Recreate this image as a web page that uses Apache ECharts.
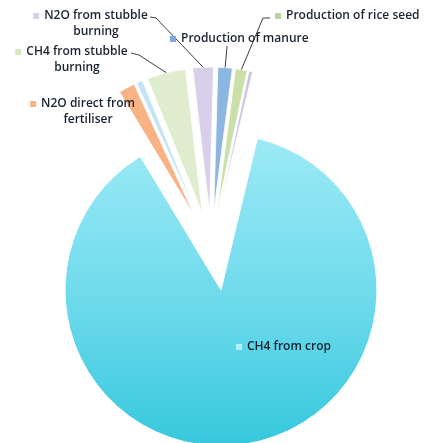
<!DOCTYPE html>
<html>
<head>
<meta charset="utf-8">
<script src="https://cdn.jsdelivr.net/npm/echarts@6/dist/echarts.min.js"></script>
<style>
  html, body { margin: 0; padding: 0; background: #ffffff; }
  #chart { width: 426px; height: 443px; }
</style>
</head>
<body>
<div id="chart"></div>
<script>
// Greenhouse gas sources of a rice crop, clockwise from the large crop slice
const categories = [
  'CH4 from crop',
  'N2O direct from fertiliser',
  'N2O indirect from fertiliser',
  'CH4 from stubble burning',
  'N2O from stubble burning',
  'Production of manure',
  'Production of rice seed',
  'Production of fertiliser'
];
const shares = [87.6, 1.8, 0.7, 4.3, 2.3, 1.6, 1.3, 0.4];
const labelTexts = [
  ['CH4 from crop'],
  ['N2O direct from', 'fertiliser'],
  [],
  ['CH4 from stubble', 'burning'],
  ['N2O from stubble', 'burning'],
  ['Production of manure'],
  ['Production of rice seed'],
  []
];

const sliceColors = ['#6edbeb', '#f8b283', '#c4e4f3', '#dfecce', '#d8d0ea', '#8cb5e1', '#cbe0a9', '#cbc2e4'];
const keyColors   = ['#b6eef7', '#f5b283', '#c4e4f3', '#d6e8c3', '#d2d2ea', '#7ea9da', '#b9d79b', '#cbc2e4'];

// geometry of the two rings (whole pie, and the pulled-out small slices)
const START_ANGLE = 76.5;
const MAIN_CENTER = [221, 290];
const MAIN_RADIUS = 156;
const SMALL_CENTER = [211, 247];
const SMALL_RADIUS = 145;
const SMALL_OFFSET = 35;

// where each label sits and the bends of its leader line
const labelPlace = {
  0: { x: 236, y: 347, align: 'left', verticalAlign: 'middle' },
  1: { x: 88, y: 96, align: 'center', verticalAlign: 'top' },
  3: { x: 77, y: 44, align: 'center', verticalAlign: 'top', bend: [[139, 55], [131, 53]] },
  4: { x: 96, y: 8, align: 'center', verticalAlign: 'top', bend: [[156, 18], [150, 17]] },
  5: { x: 170, y: 39, align: 'left', verticalAlign: 'middle', bend: [[227, 47], [227, 46]] },
  6: { x: 275, y: 16, align: 'left', verticalAlign: 'middle', bend: [[263, 18], [270, 18]] }
};

const total = shares.reduce((a, b) => a + b, 0);

// outer tip of a pulled-out slice, on its middle direction
function sliceTip(i) {
  let before = 0;
  for (let k = 0; k < i; k++) before += shares[k];
  const mid = (START_ANGLE - 360 * (before + shares[i] / 2) / total) * Math.PI / 180;
  const r = SMALL_OFFSET + SMALL_RADIUS;
  return [SMALL_CENTER[0] + r * Math.cos(mid), SMALL_CENTER[1] - r * Math.sin(mid)];
}

const rich = {
  t: { fontFamily: 'Open Sans', fontSize: 12, fontWeight: 600, color: '#1a2431', lineHeight: 16 },
  g: { width: 5 },
  p: { width: 11 }
};
keyColors.forEach((c, i) => { rich['m' + i] = { width: 6, height: 6, backgroundColor: c }; });

function formatLabel(p) {
  const lines = labelTexts[p.dataIndex];
  if (!lines.length) return '';
  const place = labelPlace[p.dataIndex];
  let first = '{m' + p.dataIndex + '|}{g|}{t|' + lines[0] + '}';
  if (place.align === 'center') first += '{p|}';
  return [first].concat(lines.slice(1).map(s => '{t|' + s + '}')).join('\n');
}

const cropGradient = {
  type: 'linear', x: 0, y: 0, x2: 0, y2: 1,
  colorStops: [
    { offset: 0, color: '#9deaf6' },
    { offset: 0.5, color: '#70dbec' },
    { offset: 1, color: '#36c8dd' }
  ]
};

const mainData = categories.map((name, i) => ({
  name: name,
  value: shares[i],
  itemStyle: {
    color: i === 0 ? cropGradient : 'rgba(0,0,0,0)',
    borderColor: i === 0 ? '#ffffff' : 'rgba(0,0,0,0)',
    borderWidth: i === 0 ? 1 : 0
  },
  label: { show: labelTexts[i].length > 0 },
  labelLine: { show: !!(labelPlace[i] && labelPlace[i].bend) }
}));

const smallData = categories.map((name, i) => ({
  name: name,
  value: shares[i],
  selected: i !== 0,
  itemStyle: {
    color: i === 0 ? 'rgba(0,0,0,0)' : sliceColors[i],
    borderColor: i === 0 ? 'rgba(0,0,0,0)' : '#ffffff',
    borderWidth: i === 0 ? 0 : 0.8
  }
}));

const chart = echarts.init(document.getElementById('chart'), null, { renderer: 'canvas' });
chart.setOption({
  animation: false,
  backgroundColor: '#ffffff',
  series: [
    {
      type: 'pie',
      center: SMALL_CENTER,
      radius: SMALL_RADIUS,
      startAngle: START_ANGLE,
      clockwise: true,
      selectedMode: 'multiple',
      selectedOffset: SMALL_OFFSET,
      avoidLabelOverlap: false,
      label: { show: false },
      labelLine: { show: false },
      emphasis: { disabled: true },
      data: smallData,
      z: 2
    },
    {
      type: 'pie',
      center: MAIN_CENTER,
      radius: MAIN_RADIUS,
      startAngle: START_ANGLE,
      clockwise: true,
      silent: true,
      avoidLabelOverlap: false,
      emphasis: { disabled: true },
      label: { show: true, position: 'outside', formatter: formatLabel, rich: rich },
      labelLine: { show: true, smooth: false, lineStyle: { color: '#3b3f44', width: 1 } },
      labelLayout: function (params) {
        const place = labelPlace[params.dataIndex];
        if (!place) return {};
        const out = { x: place.x, y: place.y, align: place.align, verticalAlign: place.verticalAlign };
        if (place.bend) out.labelLinePoints = [sliceTip(params.dataIndex)].concat(place.bend);
        return out;
      },
      data: mainData,
      z: 3
    }
  ]
});
</script>
</body>
</html>
